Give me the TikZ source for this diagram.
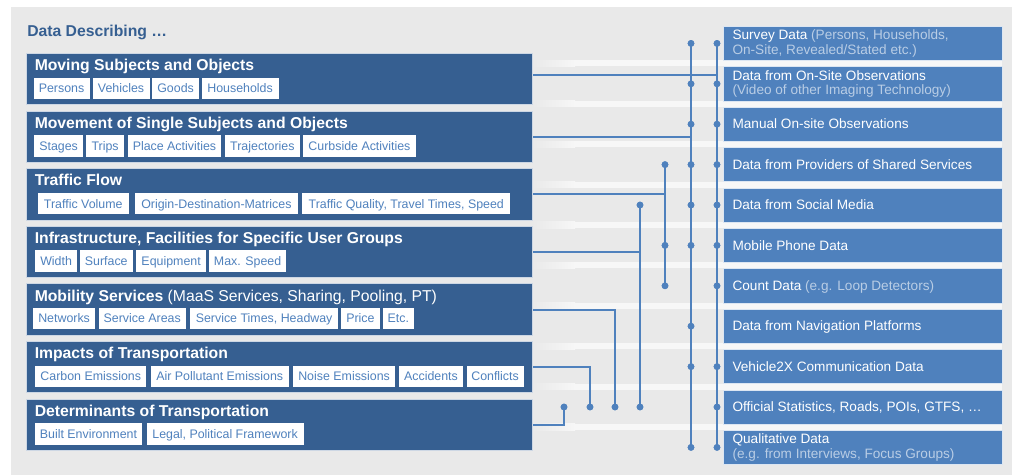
\documentclass[tikz,border=0pt]{standalone}
\usepackage{fontspec}
\setmainfont{Liberation Sans}
\definecolor{bgc}{RGB}{233,233,233}
\definecolor{dkb}{RGB}{54,95,145}
\definecolor{mdb}{RGB}{79,129,189}
\definecolor{lnc}{RGB}{79,129,189}
\definecolor{subc}{RGB}{185,205,229}
\definecolor{bandc}{RGB}{247,247,247}
\begin{document}
\begin{tikzpicture}[x=0.75pt,y=-0.75pt,
 lbox/.style={fill=dkb,draw=white!75!dkb,line width=0.6pt,minimum width=379.3pt,minimum height=38.6pt,inner sep=0pt,anchor=north west},
 rbox/.style={fill=mdb,draw=white!80!mdb,line width=0.4pt,minimum width=209.5pt,minimum height=25.7pt,inner sep=0pt,anchor=north west},
 ltitle/.style={anchor=base west,inner sep=0pt,text=white,font=\fontsize{11.8pt}{14pt}\selectfont\bfseries},
 tagbox/.style={anchor=west,fill=white,text=mdb,inner sep=0pt,minimum height=16.1pt,text height=6.7pt,text depth=0pt,font=\fontsize{9.3pt}{11pt}\selectfont},
 rtext/.style={anchor=base west,inner sep=0pt,text=white,font=\fontsize{10.2pt}{12pt}\selectfont},
 conn/.style={draw=lnc,line width=1.5pt},
 dotnode/.style={circle,fill=lnc,inner sep=0pt,minimum size=5pt},
]
\useasboundingbox (0,0) rectangle (1017,475);
\fill[bgc] (11,7) rectangle (1012,475);

% light bands between the data-source rows
\foreach \k in {1,...,10}{
  \pgfmathsetmacro{\yb}{26+40.4*(\k-1)+34.3}
  \pgfmathsetmacro{\yt}{26+40.4*\k}
  \shade[left color=bgc,right color=bandc] (532,\yb) rectangle (575,\yt);
  \fill[bandc] (575,\yb) rectangle (1002,\yt);
}

% right boxes (data sources)
\foreach \k in {1,...,11}{
  \node[rbox] (r\k) at (722.7,{26+40.4*(\k-1)}) {};
}

% left boxes (data describing)
\node[lbox] (l1) at (26,53) {};
\node[lbox] (l2) at (26,110.6) {};
\node[lbox] (l3) at (26,168.2) {};
\node[lbox] (l4) at (26,225.8) {};
\node[lbox] (l5) at (26,283.4) {};
\node[lbox] (l6) at (26,341) {};
\node[lbox] (l7) at (26,398.6) {};

% vertical bus x positions
\coordinate (v1) at (564,0);
\coordinate (v2) at (590,0);
\coordinate (v3) at (615,0);
\coordinate (v4) at (640,0);
\coordinate (v5) at (665,0);
\coordinate (v6) at (691,0);
\coordinate (v7) at (717,0);

% dots
\foreach \k in {1,2,3,4,5,6,7,9,10,11}{\node[dotnode] (d7-\k) at (v7 |- r\k.west) {};}
\foreach \k in {1,2,3,4,5,6,8,9,11}{\node[dotnode] (d6-\k) at (v6 |- r\k.west) {};}
\foreach \k in {4,6,7}{\node[dotnode] (d5-\k) at (v5 |- r\k.west) {};}
\foreach \k in {5,10}{\node[dotnode] (d4-\k) at (v4 |- r\k.west) {};}
\node[dotnode] (d3-10) at (v3 |- r10.west) {};
\node[dotnode] (d2-10) at (v2 |- r10.west) {};
\node[dotnode] (d1-10) at (v1 |- r10.west) {};

% connectors
\coordinate (j1) at (717,75);
\draw[conn] (d7-1.center) -- (d7-11.center);
\draw[conn] (d6-1.center) -- (d6-11.center);
\draw[conn] (d5-4.center) -- (d5-7.center);
\draw[conn] (d4-5.center) -- (d4-10.center);
\draw[conn] (l1.east |- j1) -- (j1);
\draw[conn] (l2.east) -- (l2.east -| v6);
\draw[conn] (l3.east) -- (l3.east -| v5);
\draw[conn] (l4.east) -- (l4.east -| v4);
\draw[conn] (l5.east) -| (d3-10.center);
\draw[conn] (l6.east) -| (d2-10.center);
\draw[conn] (l7.east) -| (d1-10.center);
\foreach \n in {d7-1,d7-2,d7-3,d7-4,d7-5,d7-6,d7-7,d7-9,d7-10,d7-11,d6-1,d6-2,d6-3,d6-4,d6-5,d6-6,d6-8,d6-9,d6-11,d5-4,d5-6,d5-7,d4-5,d4-10,d3-10,d2-10,d1-10}{
  \fill[lnc] (\n.center) circle[radius=2.5pt];
}
% redraw left boxes over line starts
\foreach \t/\n in {53/1,110.6/2,168.2/3,225.8/4,283.4/5,341/6,398.6/7}{
  \node[lbox] at (26,\t) {};
}

% heading
\node[anchor=base west,inner sep=0pt,text=dkb,font=\fontsize{11.8pt}{14pt}\selectfont\bfseries] (head) at (27,36.5) {Data Describing …};

% left titles
\node[ltitle] (h1) at (34.5,70.7) {Moving Subjects and Objects};
\node[ltitle] (h2) at (34.5,128.3) {Movement of Single Subjects and Objects};
\node[ltitle] (h3) at (34.5,185.9) {Traffic Flow};
\node[ltitle] (h4) at (34.5,243.5) {Infrastructure, Facilities for Specific User Groups};
\node[ltitle] (h5) at (34.5,301.1) {Mobility Services \mdseries(MaaS Services, Sharing, Pooling, PT)};
\node[ltitle] (h6) at (34.5,358.7) {Impacts of Transportation};
\node[ltitle] (h7) at (34.5,416.3) {Determinants of Transportation};

% tags
\node[tagbox,minimum width=42pt] (t1a) at (33.3,88.4) {Persons};
\node[tagbox,minimum width=42.75pt] (t1b) at (92.3,88.4) {Vehicles};
\node[tagbox,minimum width=35pt] (t1c) at (152,88.4) {Goods};
\node[tagbox,minimum width=57.75pt] (t1d) at (201.3,88.4) {Households};

\node[tagbox,minimum width=36.5pt] (t2a) at (34,146) {Stages};
\node[tagbox,minimum width=28.3pt] (t2b) at (86,146) {Trips};
\node[tagbox,minimum width=69.75pt] (t2c) at (127.7,146) {Place Activities};
\node[tagbox,minimum width=55.7pt] (t2d) at (225,146) {Trajectories};
\node[tagbox,minimum width=84.75pt] (t2e) at (302.7,146) {Curbside Activities};

\node[tagbox,minimum width=68.55pt] (t3a) at (37.3,203.6) {Traffic Volume};
\node[tagbox,minimum width=121.7pt] (t3b) at (135,203.6) {Origin-Destination-Matrices};
\node[tagbox,minimum width=156pt] (t3c) at (302,203.6) {Traffic Quality, Travel Times, Speed};

\node[tagbox,minimum width=31.3pt] (t4a) at (35,261) {Width};
\node[tagbox,minimum width=40pt] (t4b) at (79.3,261) {Surface};
\node[tagbox,minimum width=52.3pt] (t4c) at (136,261) {Equipment};
\node[tagbox,minimum width=57.5pt] (t4d) at (209,261) {Max. Speed};

\node[tagbox,minimum width=46.7pt] (t5a) at (32.7,318.3) {Networks};
\node[tagbox,minimum width=65.55pt] (t5b) at (98.3,318.3) {Service Areas};
\node[tagbox,minimum width=110.8pt] (t5c) at (190,318.3) {Service Times, Headway};
\node[tagbox,minimum width=28.7pt] (t5d) at (341,318.3) {Price};
\node[tagbox,minimum width=23.55pt] (t5e) at (382.3,318.3) {Etc.};

\node[tagbox,minimum width=83.25pt] (t6a) at (35,376.3) {Carbon Emissions};
\node[tagbox,minimum width=103.8pt] (t6b) at (150.3,376.3) {Air Pollutant Emissions};
\node[tagbox,minimum width=76.7pt] (t6c) at (292.7,376.3) {Noise Emissions};
\node[tagbox,minimum width=48pt] (t6d) at (398.7,376.3) {Accidents};
\node[tagbox,minimum width=42.75pt] (t6e) at (466.3,376.3) {Conflicts};

\node[tagbox,minimum width=80.8pt] (t7a) at (34.3,434) {Built Environment};
\node[tagbox,minimum width=117.75pt] (t7b) at (146.3,434) {Legal, Political Framework};

% right texts
\node[rtext] (s1a) at (732.3,39.65) {Survey Data \textcolor{subc}{(Persons, Households,}};
\node[rtext,text=subc] (s1b) at (732.3,54.15) {On-Site, Revealed/Stated etc.)};
\node[rtext] (s2a) at (732.3,80.05) {Data from On-Site Observations};
\node[rtext,text=subc] (s2b) at (732.3,94.55) {(Video of other Imaging Technology)};
\node[rtext] (s3) at (732.3,128.85) {Manual On-site Observations};
\node[rtext] (s4) at (732.3,169.25) {Data from Providers of Shared Services};
\node[rtext] (s5) at (732.3,209.65) {Data from Social Media};
\node[rtext] (s6) at (732.3,250.05) {Mobile Phone Data};
\node[rtext] (s7) at (732.3,290.45) {Count Data \textcolor{subc}{(e.g. Loop Detectors)}};
\node[rtext] (s8) at (732.3,330.85) {Data from Navigation Platforms};
\node[rtext] (s9) at (732.3,371.25) {Vehicle2X Communication Data};
\node[rtext] (s10) at (732.3,411.65) {Official Statistics, Roads, POIs, GTFS, …};
\node[rtext] (s11a) at (732.3,443.15) {Qualitative Data};
\node[rtext,text=subc] (s11b) at (732.3,458.15) {(e.g. from Interviews, Focus Groups)};
\end{tikzpicture}
\end{document}
